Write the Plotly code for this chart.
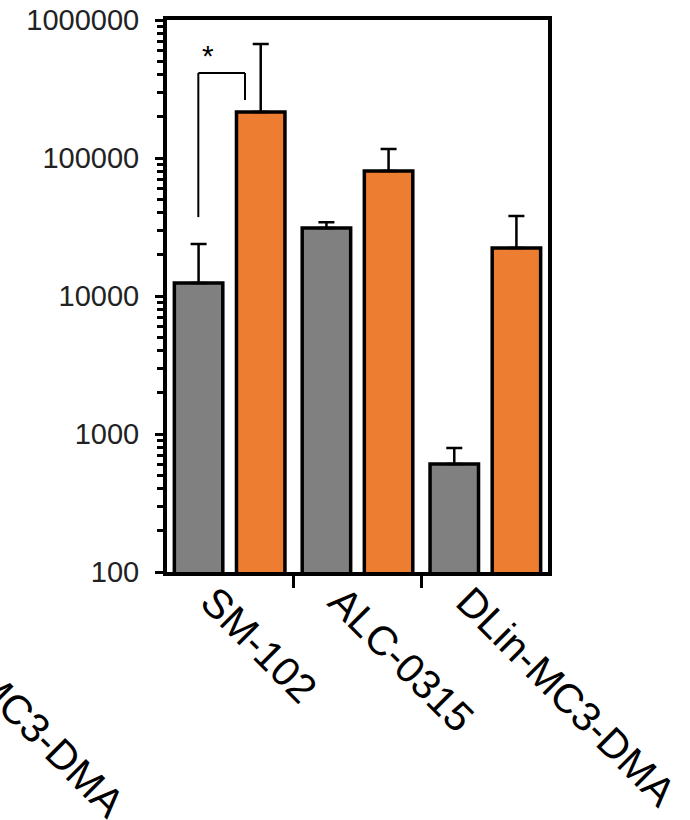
import plotly.graph_objects as go

categories = ["SM-102", "ALC-0315", "DLin-MC3-DMA"]
gray_vals = [12400, 31100, 606]
gray_err = [11400, 3200, 187]
orange_vals = [215000, 80500, 22300]
orange_err = [455000, 35500, 15700]
ytick_vals = [100, 1000, 10000, 100000, 1000000]
ytick_text = ["100", "1000", "10000", "100000", "1000000"]
minor_vals = [m * 10 ** d for d in range(2, 6) for m in range(2, 10)]

fig = go.Figure()
fig.add_trace(go.Bar(
    x=categories, y=gray_vals, name="gray",
    marker=dict(color="#808080", line=dict(color="black", width=3.5)),
    error_y=dict(type="data", array=gray_err, arrayminus=[0, 0, 0], symmetric=False,
                 color="black", thickness=2.5, width=8),
))
fig.add_trace(go.Bar(
    x=categories, y=orange_vals, name="orange",
    marker=dict(color="#ED7D31", line=dict(color="black", width=3.5)),
    error_y=dict(type="data", array=orange_err, arrayminus=[0, 0, 0], symmetric=False,
                 color="black", thickness=2.5, width=8),
))

# significance bracket
lw = dict(color="black", width=2)
fig.add_shape(type="line", xref="x", yref="y", x0=-0.245, x1=-0.245, y0=37300, y1=413000, line=lw)
fig.add_shape(type="line", xref="x", yref="y", x0=-0.245, x1=0.12, y0=413000, y1=413000, line=lw)
fig.add_shape(type="line", xref="x", yref="y", x0=0.12, x1=0.12, y0=413000, y1=263000, line=lw)
fig.add_annotation(x=-0.17, y=5.74, xref="x", yref="y", text="*", showarrow=False,
                   font=dict(family="Liberation Sans, Arial", size=30, color="black"))

# clipped leftover label at bottom-left
fig.add_annotation(x=-0.399, y=-0.2463, xref="paper", yref="paper", text="DLin-MC3-DMA",
                   textangle=45, showarrow=False, xanchor="center", yanchor="middle",
                   font=dict(family="Liberation Sans, Arial", size=41, color="black"))

fig.update_layout(
    width=690, height=820,
    margin=dict(l=167, r=142, t=20, b=248, autoexpand=False),
    paper_bgcolor="white", plot_bgcolor="white",
    barmode="group", bargap=0.028, bargroupgap=0.22,
    showlegend=False,
    font=dict(family="Liberation Sans, Arial", color="black"),
)
fig.update_xaxes(
    type="category", range=[-0.49, 2.49], automargin=False,
    showline=True, linecolor="black", linewidth=4, mirror=True,
    ticks="outside", tickson="boundaries", ticklen=12, tickwidth=3, tickcolor="black",
    tickangle=45, tickfont=dict(size=41, color="black"),
    ticklabelshift=-17, ticklabelstandoff=-15,
    showgrid=False, zeroline=False,
)
fig.update_yaxes(
    type="log", range=[2, 6], automargin=False,
    tickvals=ytick_vals, ticktext=ytick_text,
    showline=True, linecolor="black", linewidth=4, mirror=True,
    ticks="outside", ticklen=8, tickwidth=3, tickcolor="black",
    minor=dict(tickvals=minor_vals, ticks="outside", ticklen=6, tickwidth=3, tickcolor="black"),
    tickfont=dict(size=29, color="#222"), ticklabelstandoff=10,
    showgrid=False, zeroline=False,
)

fig.write_html("out.html")
